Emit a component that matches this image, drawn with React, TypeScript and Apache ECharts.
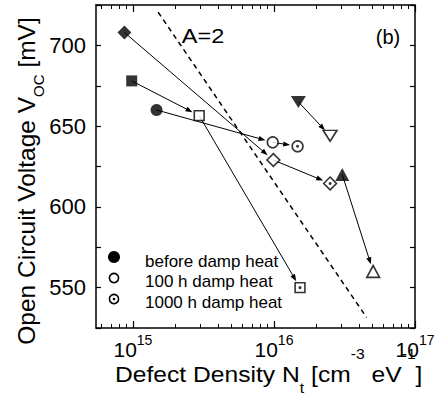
import React, { useEffect, useRef } from 'react';
import * as echarts from 'echarts';

// ---- data ----
const samples = ['diamond', 'square', 'circle', 'triangleDown', 'triangleUp'];
const densityBefore: (number | null)[] = [8.7e14, 9.8e14, 1.47e15, 1.49e16, 3.05e16];
const vocBefore: (number | null)[] = [708, 678, 660, 665, 620];
const density100h: (number | null)[] = [9.9e15, 2.95e15, 9.8e15, 2.5e16, 5.05e16];
const voc100h: (number | null)[] = [629, 656.5, 640, 644, 560];
const density1000h: (number | null)[] = [2.5e16, 1.53e16, 1.47e16, null, null];
const voc1000h: (number | null)[] = [614.5, 550, 637.5, null, null];
const fitDensity = [1.51e15, 4.54e16];
const fitVoc = [720.5, 531.5];
const fitLabel = 'A=2';
const panelLabel = '(b)';
const xTickExponents = [15, 16, 17];
const minorMantissas = [2, 3, 4, 5, 6, 7, 8, 9];
const yLabelValues = [550, 600, 650, 700];
const legendLabels = ['before damp heat', '100 h damp heat', '1000 h damp heat'];
// x-axis title pieces: [text, role]  (role: n = normal, sub, sup)
const xTitleParts: [string, string][] = [
  ['Defect Density N', 'n'],
  ['t', 'sub'],
  [' [cm', 'n'],
  ['-3', 'sup'],
  [' eV', 'n'],
  ['-1', 'sup'],
  [']', 'n'],
];

// ---- styles ----
const FONT = 'Liberation Sans, Arial, Helvetica, sans-serif';
const symbolStyle: Record<string, { symbol: string; size: number[]; rotate: number }> = {
  diamond: { symbol: 'diamond', size: [14, 14], rotate: 0 },
  square: { symbol: 'rect', size: [11, 11], rotate: 0 },
  circle: { symbol: 'circle', size: [12, 12], rotate: 0 },
  triangleDown: { symbol: 'triangle', size: [15, 12], rotate: 180 },
  triangleUp: { symbol: 'triangle', size: [14, 13], rotate: 0 },
};
const partStyle: Record<string, { size: number; dy: number }> = {
  n: { size: 22, dy: 0 },
  sub: { size: 14, dy: 13.5 },
  sup: { size: 14, dy: -20 },
};

const XMIN = 14.738;
const XMAX = 17;

type Pt = { s: string; x: number; y: number };
function points(ns: (number | null)[], vs: (number | null)[]): (Pt | null)[] {
  return samples.map((s, i) =>
    ns[i] == null || vs[i] == null ? null : { s, x: Math.log10(ns[i] as number), y: vs[i] as number }
  );
}

function measure(text: string, size: number): number {
  const c = document.createElement('canvas');
  const ctx = c.getContext('2d');
  if (!ctx) return text.length * size * 0.55;
  ctx.font = `${size}px ${FONT}`;
  return ctx.measureText(text).width;
}

export default function App() {
  const ref = useRef<HTMLDivElement>(null);
  useEffect(() => {
    if (!ref.current) return;
    const chart = echarts.init(ref.current, undefined, { renderer: 'svg' });

    const pB = points(densityBefore, vocBefore);
    const p1 = points(density100h, voc100h);
    const p2 = points(density1000h, voc1000h);

    const toItem = (p: Pt, shrink: number) => {
      const st = symbolStyle[p.s];
      return {
        value: [p.x, p.y],
        symbol: st.symbol,
        symbolSize: [st.size[0] - shrink, st.size[1] - shrink],
        symbolRotate: st.rotate,
      };
    };

    const arrows: number[][] = [];
    samples.forEach((_, i) => {
      const a = pB[i], b = p1[i], c = p2[i];
      if (a && b) arrows.push([a.x, a.y, b.x, b.y]);
      if (b && c) arrows.push([b.x, b.y, c.x, c.y]);
    });

    const minorTicks: number[] = [];
    [14, 15, 16].forEach((k) =>
      minorMantissas.forEach((m) => {
        const v = k + Math.log10(m);
        if (v > XMIN && v < XMAX) minorTicks.push(v);
      })
    );

    // x title laid out piece by piece
    let cx = 0;
    const xTitleChildren = xTitleParts.map(([t, role]) => {
      const ps = partStyle[role];
      const el = {
        type: 'text',
        x: cx,
        y: ps.dy,
        style: { text: t, fontFamily: FONT, fontSize: ps.size, fill: '#000', align: 'left', verticalAlign: 'middle' },
      };
      cx += measure(t, ps.size);
      return el;
    });

    const axisLineStyle = { color: '#000', width: 1.5 };
    const xCommon = {
      type: 'value',
      min: XMIN,
      max: XMAX,
      splitLine: { show: false },
      gridIndex: 0,
    };

    const option: any = {
      animation: false,
      backgroundColor: '#fff',
      grid: { left: 96, top: 5, width: 319, height: 323, containLabel: false },
      xAxis: [
        {
          ...xCommon,
          position: 'bottom',
          axisLine: { show: true, onZero: false, lineStyle: axisLineStyle },
          axisTick: { show: true, inside: true, length: 7, customValues: xTickExponents, lineStyle: { color: '#000', width: 1.2 } },
          axisLabel: {
            show: true,
            customValues: xTickExponents,
            margin: 9,
            showMinLabel: true,
            showMaxLabel: true,
            formatter: (v: number) => `{b|10}{s|${Math.round(v)}}`,
            rich: {
              b: { fontFamily: FONT, fontSize: 21, lineHeight: 24, color: '#000' },
              s: { fontFamily: FONT, fontSize: 14, lineHeight: 14, color: '#000', padding: [0, 0, 18, 0] },
            },
          },
        },
        {
          ...xCommon,
          position: 'bottom',
          axisLine: { show: false, onZero: false },
          axisTick: { show: true, inside: true, length: 4, customValues: minorTicks, lineStyle: { color: '#000', width: 1 } },
          axisLabel: { show: false },
        },
        {
          ...xCommon,
          position: 'top',
          axisLine: { show: true, onZero: false, lineStyle: axisLineStyle },
          axisTick: { show: true, inside: true, length: 7, customValues: xTickExponents, lineStyle: { color: '#000', width: 1.2 } },
          axisLabel: { show: false },
        },
        {
          ...xCommon,
          position: 'top',
          axisLine: { show: false, onZero: false },
          axisTick: { show: true, inside: true, length: 4, customValues: minorTicks, lineStyle: { color: '#000', width: 1 } },
          axisLabel: { show: false },
        },
      ],
      yAxis: [
        {
          type: 'value',
          min: 525,
          max: 725,
          interval: 25,
          position: 'left',
          splitLine: { show: false },
          axisLine: { show: true, onZero: false, lineStyle: axisLineStyle },
          axisTick: { show: true, inside: true, length: 5, lineStyle: { color: '#000', width: 1.2 } },
          axisLabel: {
            show: true,
            margin: 10,
            fontFamily: FONT,
            fontSize: 22,
            color: '#000',
            padding: [9, 0, 0, 0],
            formatter: (v: number) => (yLabelValues.indexOf(v) >= 0 ? String(v) : ''),
          },
        },
        {
          type: 'value',
          min: 525,
          max: 725,
          interval: 25,
          position: 'right',
          splitLine: { show: false },
          axisLine: { show: true, onZero: false, lineStyle: axisLineStyle },
          axisTick: { show: true, inside: true, length: 5, lineStyle: { color: '#000', width: 1.2 } },
          axisLabel: { show: false },
        },
      ],
      series: [
        {
          name: fitLabel,
          type: 'line',
          xAxisIndex: 0,
          yAxisIndex: 0,
          data: fitDensity.map((n, i) => [Math.log10(n), fitVoc[i]]),
          symbol: 'none',
          lineStyle: { color: '#000', width: 1.5, type: [5, 4] },
          z: 1,
          silent: true,
        },
        {
          type: 'custom',
          coordinateSystem: 'cartesian2d',
          xAxisIndex: 0,
          yAxisIndex: 0,
          data: arrows,
          encode: { x: [0, 2], y: [1, 3] },
          z: 2,
          silent: true,
          renderItem: (params: any, api: any) => {
            const a = api.coord([api.value(0), api.value(1)]);
            const b = api.coord([api.value(2), api.value(3)]);
            const dx = b[0] - a[0];
            const dy = b[1] - a[1];
            const L = Math.hypot(dx, dy) || 1;
            const ux = dx / L, uy = dy / L;
            const gap = 7.5, hl = 7, hw = 2.6;
            const tip = [b[0] - ux * gap, b[1] - uy * gap];
            const base = [tip[0] - ux * hl, tip[1] - uy * hl];
            const nx = -uy, ny = ux;
            return {
              type: 'group',
              children: [
                { type: 'line', shape: { x1: a[0], y1: a[1], x2: base[0] + ux * 1, y2: base[1] + uy * 1 }, style: { stroke: '#000', lineWidth: 1 } },
                {
                  type: 'polygon',
                  shape: { points: [tip, [base[0] + nx * hw, base[1] + ny * hw], [base[0] - nx * hw, base[1] - ny * hw]] },
                  style: { fill: '#000' },
                },
              ],
            };
          },
        },
        {
          name: legendLabels[0],
          type: 'scatter',
          xAxisIndex: 0,
          yAxisIndex: 0,
          data: (pB.filter(Boolean) as Pt[]).map((p) => toItem(p, 0)),
          itemStyle: { color: '#000' },
          z: 3,
        },
        {
          name: legendLabels[1],
          type: 'scatter',
          xAxisIndex: 0,
          yAxisIndex: 0,
          data: (p1.filter(Boolean) as Pt[]).map((p) => toItem(p, 1.2)),
          itemStyle: { color: '#fff', borderColor: '#000', borderWidth: 1.6 },
          z: 3,
        },
        {
          name: legendLabels[2],
          type: 'scatter',
          xAxisIndex: 0,
          yAxisIndex: 0,
          data: (p2.filter(Boolean) as Pt[]).map((p) => toItem(p, 1.2)),
          itemStyle: { color: '#fff', borderColor: '#000', borderWidth: 1.6 },
          z: 3,
        },
        {
          type: 'scatter',
          xAxisIndex: 0,
          yAxisIndex: 0,
          data: (p2.filter(Boolean) as Pt[]).map((p) => [p.x, p.y]),
          symbol: 'circle',
          symbolSize: 3,
          itemStyle: { color: '#000' },
          z: 4,
          silent: true,
        },
      ],
      graphic: [
        // axis titles
        {
          type: 'text',
          x: 26,
          y: 181,
          rotation: Math.PI / 2,
          style: {
            text: '{n|Open Circuit Voltage V}{sub|OC}{n| [mV]}',
            align: 'center',
            verticalAlign: 'middle',
            fill: '#000',
            rich: {
              n: { fontFamily: FONT, fontSize: 24.5, lineHeight: 40, verticalAlign: 'middle', fill: '#000' },
              sub: { fontFamily: FONT, fontSize: 15, lineHeight: 18, verticalAlign: 'bottom', fill: '#000' },
            },
          },
        },
        {
          type: 'group',
          x: 115,
          y: 374.5,
          scaleX: 1.12,
          children: xTitleChildren,
        },
        // annotations
        {
          type: 'text',
          x: 203,
          y: 36,
          scaleX: 1.12,
          style: { text: fitLabel, fontFamily: FONT, fontSize: 21, fill: '#000', align: 'center', verticalAlign: 'middle' },
        },
        {
          type: 'text',
          x: 388,
          y: 36.5,
          style: { text: panelLabel, fontFamily: FONT, fontSize: 20, fill: '#000', align: 'center', verticalAlign: 'middle' },
        },
        // legend
        { type: 'circle', shape: { cx: 114, cy: 257, r: 6 }, style: { fill: '#000' } },
        { type: 'circle', shape: { cx: 114, cy: 278, r: 4.6 }, style: { fill: '#fff', stroke: '#000', lineWidth: 1.6 } },
        { type: 'circle', shape: { cx: 114, cy: 299, r: 4.6 }, style: { fill: '#fff', stroke: '#000', lineWidth: 1.6 } },
        { type: 'circle', shape: { cx: 114, cy: 299, r: 1.3 }, style: { fill: '#000' } },
        ...legendLabels.map((t, i) => ({
          type: 'text',
          x: 145,
          y: 261 + i * 20.5,
          style: { text: t, fontFamily: FONT, fontSize: 17, fill: '#000', align: 'left', verticalAlign: 'middle' },
        })),
      ],
    };

    chart.setOption(option);
    return () => chart.dispose();
  }, []);

  return (
    <div
      ref={ref}
      style={{ position: 'fixed', left: 0, top: 0, width: 441, height: 400, background: '#fff' }}
    />
  );
}
